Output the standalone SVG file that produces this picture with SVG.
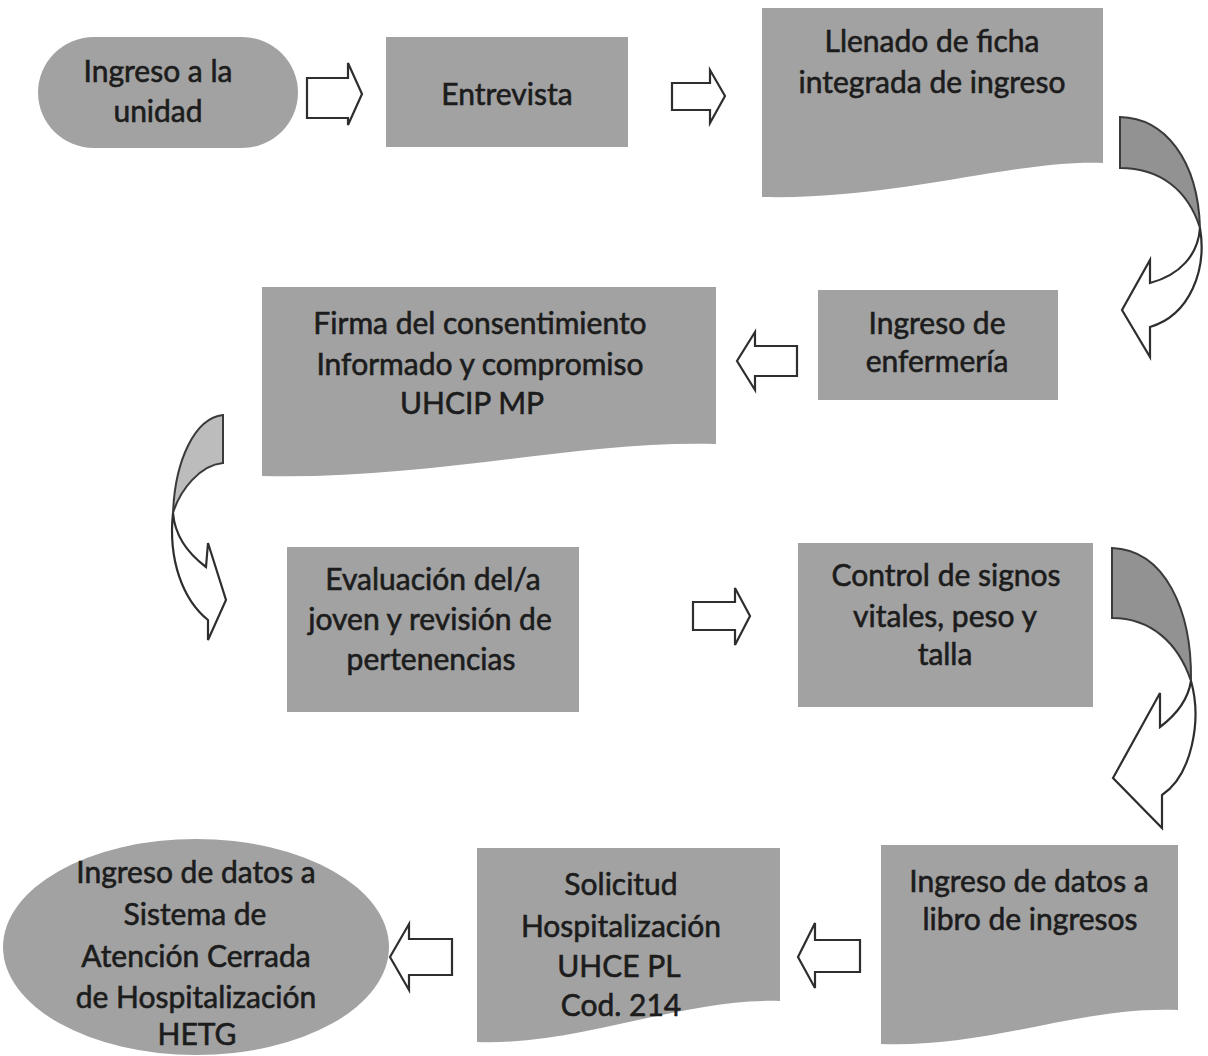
<svg xmlns="http://www.w3.org/2000/svg" width="1208" height="1056" viewBox="0 0 1208 1056">
<style>
.node{fill:#a2a2a2;}
.t{font-family:Lato,"Open Sans","Liberation Sans",sans-serif;font-size:30px;fill:#1c1c1c;stroke:#1c1c1c;stroke-width:0.6;text-anchor:middle;}
.arr{fill:#ffffff;stroke:#2e2e2e;stroke-width:2.2;stroke-linejoin:miter;}
.back{fill:#929292;stroke:#3a3a3a;stroke-width:2;}
.backL{fill:#bcbcbc;stroke:#3a3a3a;stroke-width:2;}
</style>
<rect x="0" y="0" width="1208" height="1056" fill="#ffffff"/>

<g id="n1">
<rect class="node" x="38" y="37" width="260" height="111" rx="56" ry="56"/>
<text class="t" x="158" y="82">Ingreso a la</text>
<text class="t" x="158" y="122">unidad</text>
</g>

<g id="n2">
<rect class="node" x="386" y="37" width="242" height="110"/>
<text class="t" x="507" y="105">Entrevista</text>
</g>

<g id="n3">
<path class="node" d="M762,8 H1103 V163 C1010,160 900,200 762,197 Z"/>
<text class="t" x="932" y="52">Llenado de ficha</text>
<text class="t" x="932" y="93">integrada de ingreso</text>
</g>

<g id="n4">
<rect class="node" x="818" y="290" width="240" height="110"/>
<text class="t" x="937" y="334">Ingreso de</text>
<text class="t" x="937" y="372">enfermería</text>
</g>

<g id="n5">
<path class="node" d="M262,287 H716 V444 C580,440 430,480 262,476 Z"/>
<text class="t" x="480" y="334">Firma del consentimiento</text>
<text class="t" x="480" y="375">Informado y compromiso</text>
<text class="t" x="472" y="414">UHCIP MP</text>
</g>

<g id="n6">
<rect class="node" x="287" y="547" width="292" height="165"/>
<text class="t" x="433" y="590">Evaluación del/a</text>
<text class="t" x="430" y="630">joven y revisión de</text>
<text class="t" x="431" y="670">pertenencias</text>
</g>

<g id="n7">
<rect class="node" x="798" y="543" width="295" height="164"/>
<text class="t" x="946" y="586">Control de signos</text>
<text class="t" x="945" y="627">vitales, peso y</text>
<text class="t" x="945" y="665">talla</text>
</g>

<g id="n8">
<path class="node" d="M881,845 H1178 V1010 C1080,1006 990,1048 881,1044 Z"/>
<text class="t" x="1029" y="892">Ingreso de datos a</text>
<text class="t" x="1030" y="930">libro de ingresos</text>
</g>

<g id="n9">
<path class="node" d="M477,848 H780 V1001 C680,998 580,1046 477,1042 Z"/>
<text class="t" x="621" y="895">Solicitud</text>
<text class="t" x="621" y="937">Hospitalización</text>
<text class="t" x="619" y="977">UHCE PL</text>
<text class="t" x="621" y="1016">Cod. 214</text>
</g>

<g id="n10">
<ellipse class="node" cx="196" cy="947" rx="193" ry="108"/>
<text class="t" x="196" y="883">Ingreso de datos a</text>
<text class="t" x="195" y="925">Sistema de</text>
<text class="t" x="196" y="967">Atención Cerrada</text>
<text class="t" x="196" y="1008">de Hospitalización</text>
<text class="t" x="197" y="1045">HETG</text>
</g>

<g id="connectors">
<path class="arr" d="M307,78 H348 V63 L362,94 L348,125 V118 H307 Z"/>
<path class="arr" d="M672,83 H710 V70 L725,96 L710,123 V110 H672 Z"/>
<path class="arr" d="M797,346 H755 V332 L737,361 L755,390 V376 H797 Z"/>
<path class="arr" d="M693,602 H735 V588 L750,616 L735,645 V630 H693 Z"/>
<path class="arr" d="M860,940 H815 V923 L798,957 L815,988 V972 H860 Z"/>
<path class="arr" d="M452,939 H409 V924 L390,957 L409,990 V975 H452 Z"/>

<path class="back" d="M1120,117 C1165,118 1198,160 1200,228 C1188,190 1160,168 1120,168 Z"/>
<path class="arr" d="M1200,228 C1207,270 1190,315 1150,327 L1150,357 L1122,310 L1150,260 L1150,283 C1180,275 1198,255 1200,228 Z"/>

<path class="backL" d="M223,415 C195,418 175,460 173,513 C180,490 200,465 223,463 Z"/>
<path class="arr" d="M173,513 C168,560 183,600 208,620 L208,640 L226,600 L208,543 L206,567 C190,555 175,537 173,513 Z"/>

<path class="back" d="M1112,548 C1165,550 1192,610 1191,681 C1178,642 1150,618 1112,618 Z"/>
<path class="arr" d="M1191,681 C1202,720 1192,775 1162,795 L1162,828 L1113,778 L1160,693 L1160,727 C1176,715 1188,700 1191,681 Z"/>
</g>
</svg>
